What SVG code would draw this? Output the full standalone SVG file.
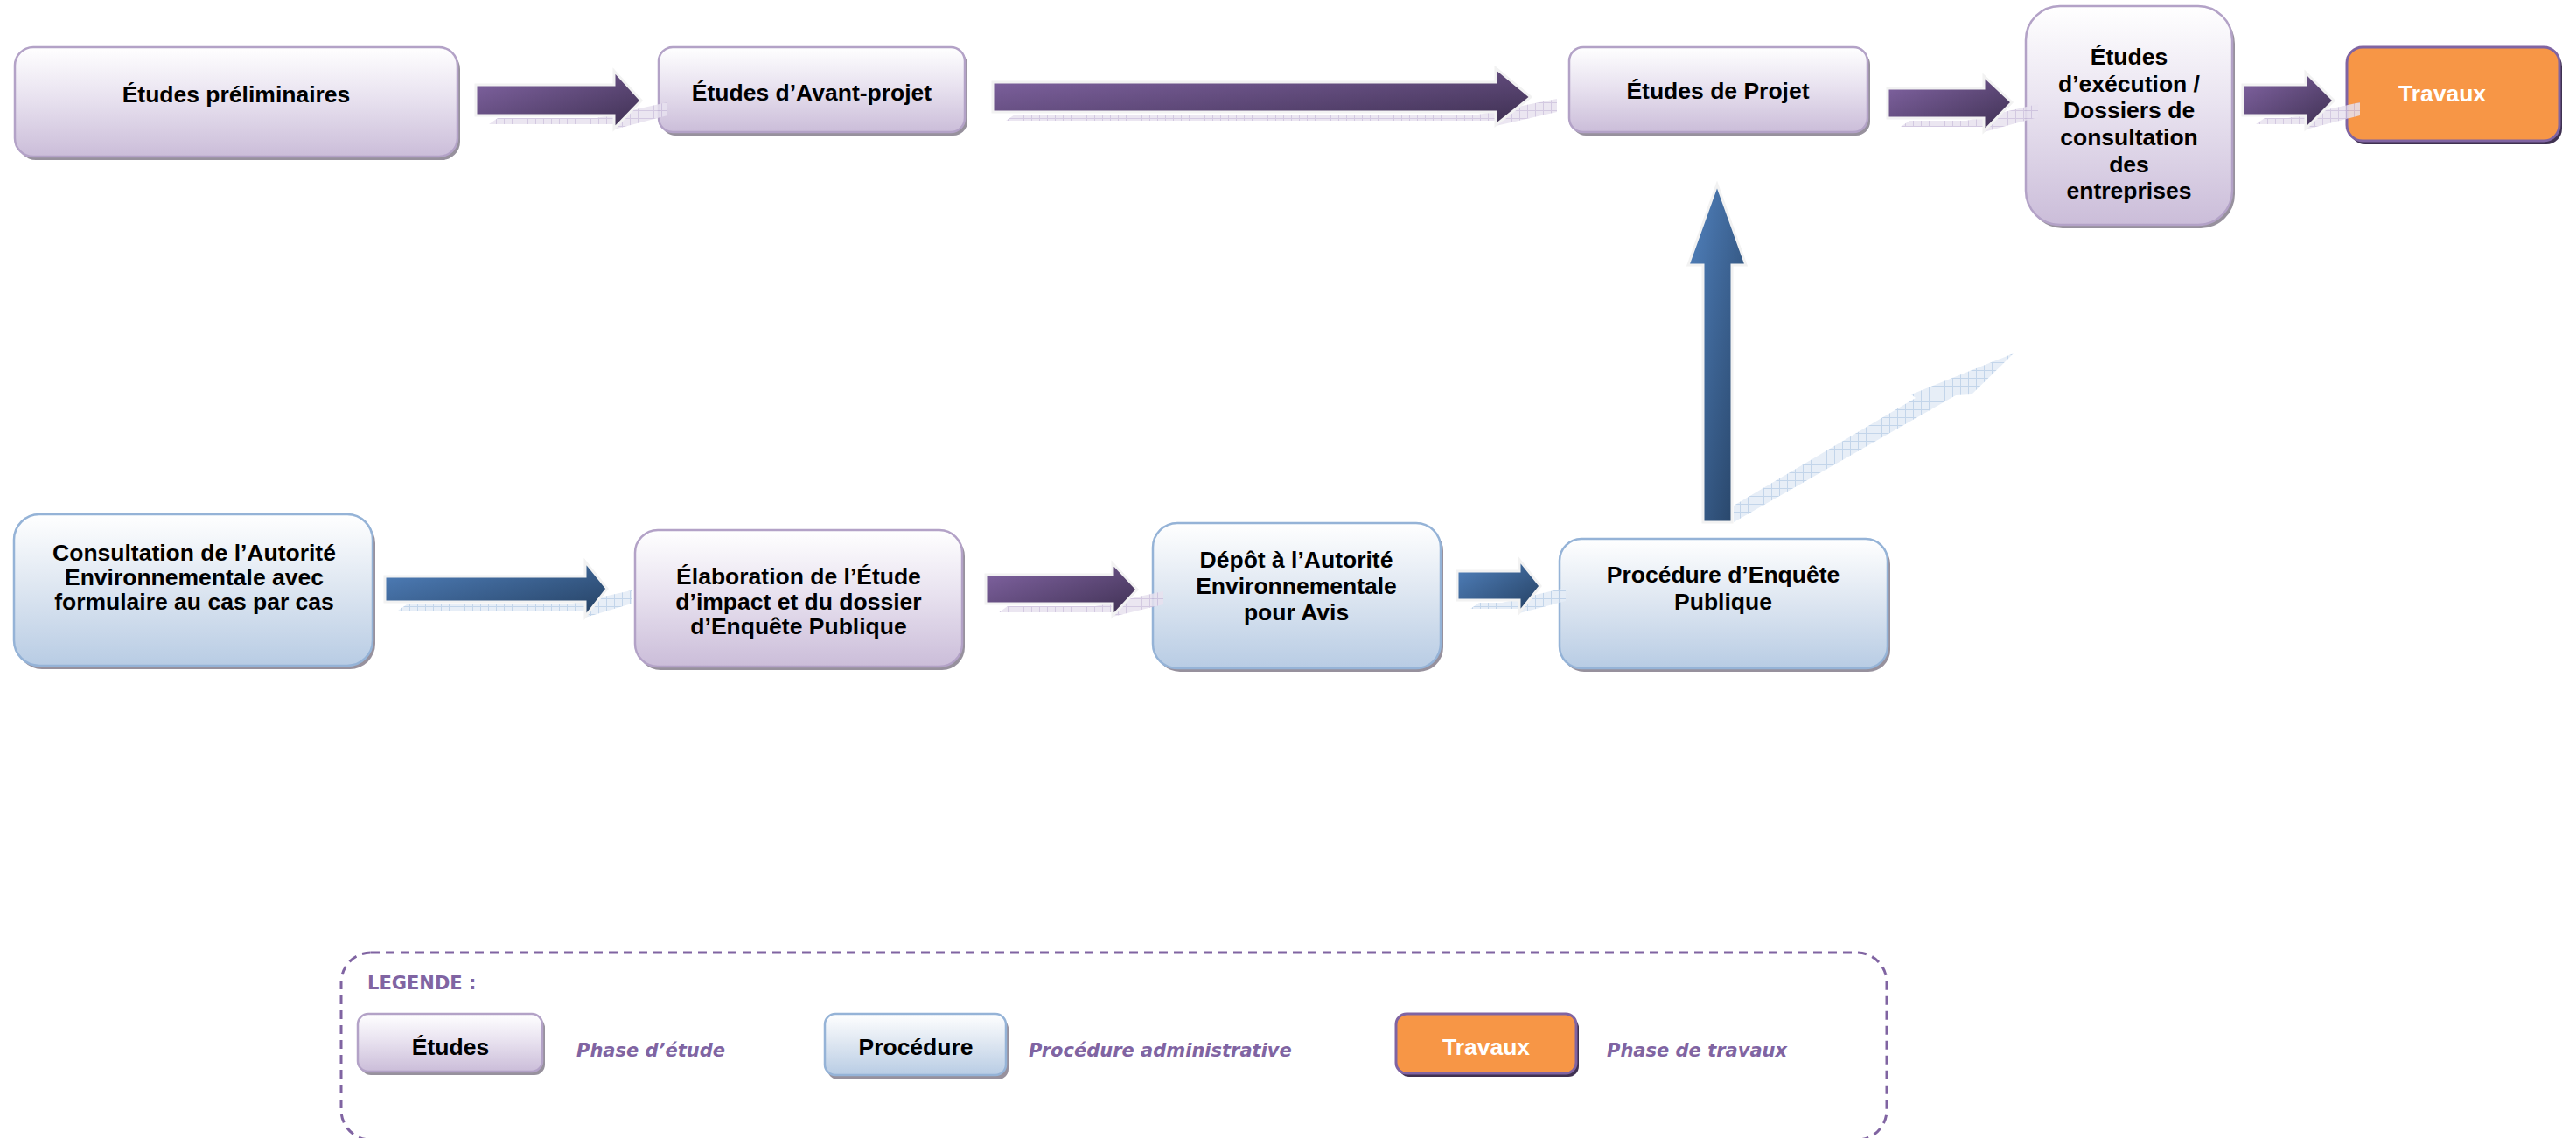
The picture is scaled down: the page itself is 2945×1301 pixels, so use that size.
<svg xmlns="http://www.w3.org/2000/svg" width="2945" height="1301" viewBox="0 0 2945 1301">
  <defs>
    <linearGradient id="gStudy" x1="0" y1="0" x2="0" y2="1">
      <stop offset="0" stop-color="#ffffff"/>
      <stop offset="0.45" stop-color="#e9e3f0"/>
      <stop offset="1" stop-color="#cbbdd9"/>
    </linearGradient>
    <linearGradient id="gProc" x1="0" y1="0" x2="0" y2="1">
      <stop offset="0" stop-color="#ffffff"/>
      <stop offset="0.45" stop-color="#e0e8f2"/>
      <stop offset="1" stop-color="#b8cce4"/>
    </linearGradient>
    <linearGradient id="gArrowP" x1="0" y1="0" x2="1" y2="1">
      <stop offset="0" stop-color="#8466a6"/>
      <stop offset="1" stop-color="#3d2f50"/>
    </linearGradient>
    <linearGradient id="gArrowB" x1="0" y1="0" x2="1" y2="1">
      <stop offset="0" stop-color="#5283c0"/>
      <stop offset="1" stop-color="#243f60"/>
    </linearGradient>
    <pattern id="hatchP" width="9" height="9" patternUnits="userSpaceOnUse">
      <rect width="9" height="9" fill="#e7e1ef"/>
      <path d="M0 0.5H9M0.5 0V9" stroke="#cbbfdc" stroke-width="1"/>
    </pattern>
    <pattern id="hatchB" width="9" height="9" patternUnits="userSpaceOnUse">
      <rect width="9" height="9" fill="#e4ecf6"/>
      <path d="M0 0.5H9M0.5 0V9" stroke="#bcd0e8" stroke-width="1"/>
    </pattern>
    <style>
      .study { fill: url(#gStudy); stroke: #b3a2c7; stroke-width: 2.5; }
      .proc { fill: url(#gProc); stroke: #95b3d7; stroke-width: 2.5; }
      .works { fill: #f79646; stroke: #8064a2; stroke-width: 3; }
      .shade { fill: #7d7585; opacity: 0.8; }
      .shadeW { fill: #3f3151; }
      .lbl { font-family: "Liberation Sans", Arial, sans-serif; font-weight: bold; font-size: 26.5px; fill: #000000; text-anchor: middle; }
      .lblW { fill: #ffffff; }
      .arrP { fill: url(#gArrowP); stroke: #f2f2f2; stroke-width: 3; stroke-linejoin: miter; }
      .arrB { fill: url(#gArrowB); stroke: #f2f2f2; stroke-width: 3; stroke-linejoin: miter; }
      .refP { fill: url(#hatchP); opacity: 0.85; }
      .refB { fill: url(#hatchB); opacity: 0.9; }
      .legendFrame { fill: none; stroke: #8064a2; stroke-width: 3; stroke-dasharray: 10 7; }
      .legendTitle { font-family: "DejaVu Sans", Verdana, sans-serif; font-weight: bold; font-size: 21px; fill: #8064a2; }
      .legendNote { font-family: "DejaVu Sans", Verdana, sans-serif; font-weight: bold; font-style: italic; font-size: 21px; fill: #8064a2; }
    </style>
  </defs>

  <rect width="2945" height="1301" fill="#ffffff"/>

  <!-- Study phase (top row) -->
  <g id="etudes-preliminaires">
    <rect class="shade" x="20" y="58" width="506" height="125" rx="21"/>
    <rect class="study" x="17" y="54" width="506" height="125" rx="21"/>
    <text class="lbl" x="270" y="117">Études préliminaires</text>
  </g>
  <g id="etudes-avant-projet">
    <rect class="shade" x="756" y="58" width="350" height="97" rx="16"/>
    <rect class="study" x="753" y="54" width="350" height="97" rx="16"/>
    <text class="lbl" x="928" y="115">Études d’Avant-projet</text>
  </g>
  <g id="etudes-projet">
    <rect class="shade" x="1797" y="58" width="341" height="97" rx="16"/>
    <rect class="study" x="1794" y="54" width="341" height="97" rx="16"/>
    <text class="lbl" x="1964" y="113">Études de Projet</text>
  </g>
  <g id="etudes-execution">
    <rect class="shade" x="2319" y="11" width="236" height="250" rx="39"/>
    <rect class="study" x="2316" y="7" width="236" height="250" rx="39"/>
    <text class="lbl" x="2434" y="74">Études</text>
    <text class="lbl" x="2434" y="105">d’exécution /</text>
    <text class="lbl" x="2434" y="135">Dossiers de</text>
    <text class="lbl" x="2434" y="166">consultation</text>
    <text class="lbl" x="2434" y="197">des</text>
    <text class="lbl" x="2434" y="227">entreprises</text>
  </g>
  <g id="travaux">
    <rect class="shadeW" x="2686" y="58" width="243" height="107" rx="18"/>
    <rect class="works" x="2683" y="54" width="243" height="107" rx="18"/>
    <text class="lbl lblW" x="2792" y="116">Travaux</text>
  </g>

  <!-- Administrative procedure (bottom row) -->
  <g id="consultation-autorite">
    <rect class="shade" x="19" y="592" width="410" height="173" rx="29"/>
    <rect class="proc" x="16" y="588" width="410" height="173" rx="29"/>
    <text class="lbl" x="222" y="641">Consultation de l’Autorité</text>
    <text class="lbl" x="222" y="669">Environnementale avec</text>
    <text class="lbl" x="222" y="697">formulaire au cas par cas</text>
  </g>
  <g id="elaboration-etude-impact">
    <rect class="shade" x="729" y="610" width="374" height="156" rx="26"/>
    <rect class="study" x="726" y="606" width="374" height="156" rx="26"/>
    <text class="lbl" x="913" y="668">Élaboration de l’Étude</text>
    <text class="lbl" x="913" y="697">d’impact et du dossier</text>
    <text class="lbl" x="913" y="725">d’Enquête Publique</text>
  </g>
  <g id="depot-autorite">
    <rect class="shade" x="1321" y="602" width="329" height="166" rx="28"/>
    <rect class="proc" x="1318" y="598" width="329" height="166" rx="28"/>
    <text class="lbl" x="1482" y="649">Dépôt à l’Autorité</text>
    <text class="lbl" x="1482" y="679">Environnementale</text>
    <text class="lbl" x="1482" y="709">pour Avis</text>
  </g>
  <g id="procedure-enquete">
    <rect class="shade" x="1786" y="620" width="375" height="148" rx="25"/>
    <rect class="proc" x="1783" y="616" width="375" height="148" rx="25"/>
    <text class="lbl" x="1970" y="666">Procédure d’Enquête</text>
    <text class="lbl" x="1970" y="697">Publique</text>
  </g>

  <!-- Connectors: block arrows with their faint reflections -->
  <g id="connectors">
    <!-- reflections -->
    <polygon class="refP" points="559,142 569,135 682,135 763,117 763,132 702,148 702,142"/>
    <polygon class="refP" points="1150,138 1160,131 1690,131 1780,113 1780,128 1710,144 1710,138"/>
    <polygon class="refP" points="2173,145 2183,138 2248,138 2330,119 2330,134 2268,151 2268,145"/>
    <polygon class="refP" points="2579,142 2589,135 2616,135 2698,117 2698,132 2636,148 2636,142"/>
    <polygon class="refB" points="455,698 465,691 649,691 722,675 722,690 669,706 669,698"/>
    <polygon class="refP" points="1142,700 1152,693 1252,693 1330,676 1330,691 1272,705 1272,700"/>
    <polygon class="refB" points="1681,696 1691,689 1717,689 1790,672 1790,687 1737,701 1737,696"/>
    <polygon class="refB" points="1982,597 1982,578 2190,455 2185,451 2302,404 2254,451 2236,452"/>

    <!-- arrows -->
    <polygon class="arrP" points="544,97 702,97 702,81 733,115 702,147 702,132 544,132"/>
    <polygon class="arrP" points="1135,94 1710,94 1710,78 1750,111 1710,143 1710,128 1135,128"/>
    <polygon class="arrP" points="2158,101 2268,101 2268,87 2300,117 2268,150 2268,135 2158,135"/>
    <polygon class="arrP" points="2564,97 2636,97 2636,83 2668,115 2636,147 2636,132 2564,132"/>
    <polygon class="arrB" points="440,659 669,659 669,642 694,673 669,705 669,688 440,688"/>
    <polygon class="arrP" points="1127,657 1272,657 1272,644 1300,674 1272,704 1272,690 1127,690"/>
    <polygon class="arrB" points="1666,653 1737,653 1737,640 1761,670 1737,700 1737,686 1666,686"/>
    <polygon class="arrB" points="1947,597 1947,303 1930,303 1963,211 1996,303 1980,303 1980,597"/>
  </g>

  <!-- Legend -->
  <g id="legende">
    <rect class="legendFrame" x="390" y="1089" width="1767" height="214" rx="34"/>
    <text class="legendTitle" x="420" y="1131">LEGENDE :</text>
    <g id="legende-etudes">
      <rect class="shade" x="412" y="1163" width="211" height="66" rx="12"/>
      <rect class="study" x="409" y="1159" width="211" height="66" rx="12"/>
      <text class="lbl" x="515" y="1206">Études</text>
    </g>
    <text class="legendNote" x="659" y="1208">Phase d’étude</text>
    <g id="legende-procedure">
      <rect class="shade" x="946" y="1164" width="207" height="70" rx="12"/>
      <rect class="proc" x="943" y="1159" width="207" height="70" rx="12"/>
      <text class="lbl" x="1047" y="1206">Procédure</text>
    </g>
    <text class="legendNote" x="1176" y="1208">Procédure administrative</text>
    <g id="legende-travaux">
      <rect class="shadeW" x="1599" y="1163" width="206" height="68" rx="12"/>
      <rect class="works" x="1596" y="1159" width="206" height="68" rx="12"/>
      <text class="lbl lblW" x="1699" y="1206">Travaux</text>
    </g>
    <text class="legendNote" x="1837" y="1208">Phase de travaux</text>
  </g>
</svg>
